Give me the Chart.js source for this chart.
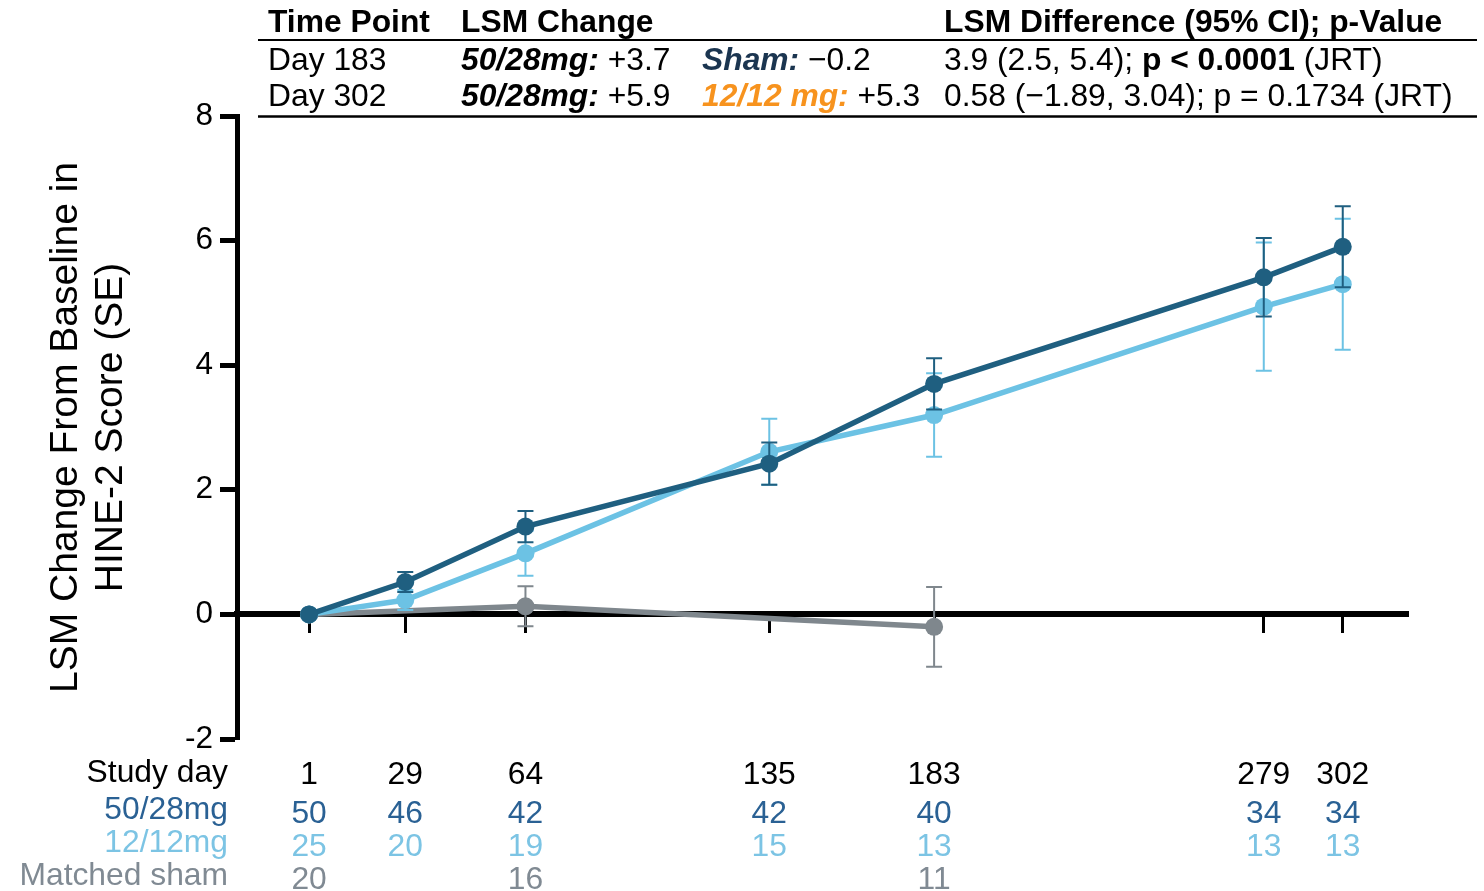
<!DOCTYPE html>
<html>
<head>
<meta charset="utf-8">
<script src="https://cdn.jsdelivr.net/npm/chart.js@4/dist/chart.umd.min.js"></script>
<style>
  html, body { margin: 0; padding: 0; background: #ffffff; }
  canvas { display: block; }
</style>
</head>
<body>
<canvas id="chart" width="1484" height="891"></canvas>
<script>
// Study visits (days) shared by the two dose groups
const studyDays = [1, 29, 64, 135, 183, 279, 302];
// LSM change from baseline and standard errors, 50/28 mg group
const mean5028 = [0, 0.52, 1.41, 2.42, 3.7, 5.41, 5.9];
const se5028   = [0, 0.16, 0.25, 0.34, 0.41, 0.63, 0.65];
// LSM change from baseline and standard errors, 12/12 mg group
const mean1212 = [0, 0.23, 0.98, 2.61, 3.20, 4.94, 5.3];
const se1212   = [0, 0.16, 0.36, 0.53, 0.67, 1.03, 1.05];
// Matched sham group (fewer visits)
const shamDays = [1, 64, 183];
const meanSham = [0, 0.13, -0.2];
const seSham   = [0, 0.32, 0.64];
// Patients at each visit
const n5028 = [50, 46, 42, 42, 40, 34, 34];
const n1212 = [25, 20, 19, 15, 13, 13, 13];
const nSham = [20, 16, 11];
// Y axis tick values
const yTicks = [-2, 0, 2, 4, 6, 8];
// LSM difference rows
const diffDay183 = ['3.9 (2.5, 5.4); ', 'p < 0.0001', ' (JRT)'];
const diffDay302 = '0.58 (\u22121.89, 3.04); p = 0.1734 (JRT)';

const FONT = '"Liberation Sans", Arial, Helvetica, sans-serif';
const C_DARK = '#1f5f80';
const C_LIGHT = '#6cc2e4';
const C_GRAY = '#7f878d';
const C_TXT_DARK = '#2a6194';
const C_TXT_LIGHT = '#7cc4e4';
const C_TXT_GRAY = '#808a93';
const C_NAVY = '#1b3550';
const C_ORANGE = '#f7931e';

const toPoints = (days, vals) => days.map((d, i) => ({ x: d, y: vals[i] }));
const signed = v => (v < 0 ? '\u2212' + Math.abs(v).toFixed(1) : '+' + v.toFixed(1));

// Vertical SE whiskers with caps, drawn just under each series
const errorBars = {
  id: 'errorBars',
  beforeDatasetDraw(chart, args) {
    const ds = chart.data.datasets[args.index];
    if (!ds.se) return;
    const { ctx } = chart;
    const xs = chart.scales.x, ys = chart.scales.y;
    ctx.save();
    ctx.strokeStyle = ds.borderColor;
    ctx.lineWidth = 2;
    ds.data.forEach((p, i) => {
      const se = ds.se[i];
      if (!se) return;
      const px = xs.getPixelForValue(p.x);
      const yt = ys.getPixelForValue(p.y + se);
      const yb = ys.getPixelForValue(p.y - se);
      ctx.beginPath();
      ctx.moveTo(px, yt); ctx.lineTo(px, yb);
      ctx.moveTo(px - 8, yt); ctx.lineTo(px + 8, yt);
      ctx.moveTo(px - 8, yb); ctx.lineTo(px + 8, yb);
      ctx.stroke();
    });
    ctx.restore();
  }
};

// Draws a run of differently styled text pieces starting at x
function drawRun(ctx, x, y, pieces) {
  pieces.forEach(p => {
    ctx.font = p.font;
    ctx.fillStyle = p.color || '#000';
    ctx.fillText(p.text, x, y);
    x += ctx.measureText(p.text).width;
  });
}

// Summary table above the plot
const headerTable = {
  id: 'headerTable',
  afterDraw(chart) {
    const { ctx } = chart;
    const reg = '31.8px ' + FONT;
    const bold = 'bold 31.8px ' + FONT;
    const bi = 'italic bold 31.8px ' + FONT;
    ctx.save();
    ctx.textAlign = 'left';
    ctx.textBaseline = 'alphabetic';
    const c1 = 268, c2 = 461, c3 = 702, c4 = 944;
    const r0 = 32, r1 = 70, r2 = 106;
    drawRun(ctx, c1, r0, [{ text: 'Time Point', font: bold }]);
    drawRun(ctx, c2, r0, [{ text: 'LSM Change', font: bold }]);
    drawRun(ctx, c4, r0, [{ text: 'LSM Difference (95% CI); p-Value', font: bold }]);

    drawRun(ctx, c1, r1, [{ text: 'Day ' + studyDays[4], font: reg }]);
    drawRun(ctx, c2, r1, [{ text: '50/28mg:', font: bi }, { text: ' ' + signed(mean5028[4]), font: reg }]);
    drawRun(ctx, c3, r1, [{ text: 'Sham:', font: bi, color: C_NAVY }, { text: ' ' + signed(meanSham[2]), font: reg }]);
    drawRun(ctx, c4, r1, [{ text: diffDay183[0], font: reg }, { text: diffDay183[1], font: bold }, { text: diffDay183[2], font: reg }]);

    drawRun(ctx, c1, r2, [{ text: 'Day ' + studyDays[6], font: reg }]);
    drawRun(ctx, c2, r2, [{ text: '50/28mg:', font: bi }, { text: ' ' + signed(mean5028[6]), font: reg }]);
    drawRun(ctx, c3, r2, [{ text: '12/12 mg:', font: bi, color: C_ORANGE }, { text: ' ' + signed(mean1212[6]), font: reg }]);
    drawRun(ctx, c4, r2, [{ text: diffDay302, font: reg }]);

    ctx.strokeStyle = '#000';
    ctx.lineWidth = 2;
    ctx.beginPath(); ctx.moveTo(258, 40); ctx.lineTo(1477, 40); ctx.stroke();
    ctx.lineWidth = 2.5;
    ctx.beginPath(); ctx.moveTo(258, 116.5); ctx.lineTo(1477, 116.5); ctx.stroke();
    ctx.restore();
  }
};

// Study-day and patient-count rows under the plot, aligned to the x scale
const countTable = {
  id: 'countTable',
  afterDraw(chart) {
    const { ctx } = chart;
    const xs = chart.scales.x;
    const f = '31.8px ' + FONT;
    ctx.save();
    ctx.font = f;
    ctx.textBaseline = 'alphabetic';
    const labelX = 228;
    const rows = [
      { label: 'Study day', color: '#000', days: studyDays, vals: studyDays, ly: 782, vy: 784 },
      { label: '50/28mg', color: C_TXT_DARK, days: studyDays, vals: n5028, ly: 819, vy: 823 },
      { label: '12/12mg', color: C_TXT_LIGHT, days: studyDays, vals: n1212, ly: 852, vy: 856 },
      { label: 'Matched sham', color: C_TXT_GRAY, days: shamDays, vals: nSham, ly: 885, vy: 889 }
    ];
    rows.forEach(r => {
      ctx.fillStyle = r.color;
      ctx.textAlign = 'right';
      ctx.fillText(r.label, labelX, r.ly);
      ctx.textAlign = 'center';
      r.days.forEach((d, i) => {
        ctx.fillText(String(r.vals[i]), xs.getPixelForValue(d), r.vy);
      });
    });
    ctx.restore();
  }
};

new Chart(document.getElementById('chart'), {
  type: 'line',
  data: {
    datasets: [
      {
        label: '50/28mg',
        data: toPoints(studyDays, mean5028),
        se: se5028,
        borderColor: C_DARK,
        backgroundColor: C_DARK,
        borderWidth: 5.5,
        pointRadius: 9,
        pointBorderWidth: 0,
        pointBackgroundColor: C_DARK
      },
      {
        label: '12/12mg',
        data: toPoints(studyDays, mean1212),
        se: se1212,
        borderColor: C_LIGHT,
        backgroundColor: C_LIGHT,
        borderWidth: 5.5,
        pointRadius: 9,
        pointBorderWidth: 0,
        pointBackgroundColor: C_LIGHT
      },
      {
        label: 'Matched sham',
        data: toPoints(shamDays, meanSham),
        se: seSham,
        borderColor: C_GRAY,
        backgroundColor: C_GRAY,
        borderWidth: 5.5,
        pointRadius: 9,
        pointBorderWidth: 0,
        pointBackgroundColor: C_GRAY
      }
    ]
  },
  options: {
    responsive: false,
    animation: false,
    events: [],
    layout: { padding: { top: 116, bottom: 152, left: 0, right: 76 } },
    plugins: {
      legend: { display: false },
      tooltip: { enabled: false }
    },
    elements: { line: { tension: 0 } },
    scales: {
      x: {
        type: 'linear',
        position: { y: 0 },
        min: -20,
        max: 321,
        afterBuildTicks(scale) { scale.ticks = studyDays.map(v => ({ value: v })); },
        ticks: { display: false },
        grid: {
          drawOnChartArea: false,
          drawTicks: true,
          tickLength: 16,
          tickWidth: 3,
          tickColor: '#000'
        },
        border: { display: true, color: '#000', width: 6 }
      },
      y: {
        type: 'linear',
        position: 'left',
        min: -2,
        max: 8,
        afterFit(scale) { scale.width = 237; },
        afterBuildTicks(scale) { scale.ticks = yTicks.map(v => ({ value: v })); },
        ticks: {
          color: '#000',
          padding: 7,
          font: { family: FONT, size: 31.5 },
          callback: v => String(v)
        },
        grid: {
          drawOnChartArea: false,
          drawTicks: true,
          tickLength: 17,
          tickWidth: 5,
          tickColor: '#000'
        },
        border: { display: true, color: '#000', width: 5 },
        title: {
          display: true,
          text: ['LSM Change From Baseline in', 'HINE-2 Score (SE)'],
          color: '#000',
          font: { family: FONT, size: 39, lineHeight: 1.15 },
          padding: { top: 44, bottom: 0 }
        }
      }
    }
  },
  plugins: [errorBars, headerTable, countTable]
});
</script>
</body>
</html>
